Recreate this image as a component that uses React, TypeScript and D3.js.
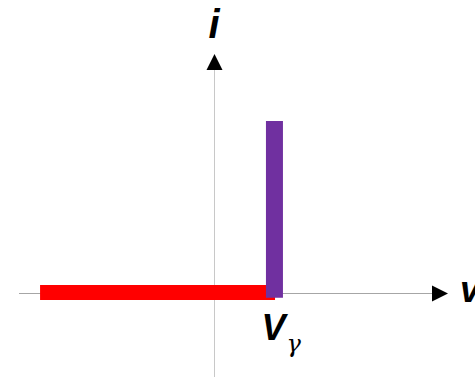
import React from "react";
import * as d3 from "d3";

const W = 475;
const H = 379;

// Characteristic pieces (v, i)
const reverseSegment = [
  { v: -0.892, i: 0 },
  { v: 0.313, i: 0 },
];
const forwardSegment = [
  { v: 0.31, i: 0 },
  { v: 0.31, i: 1 },
];
const vGamma = 0.31;
const axisLabels = { x: "v", y: "i", knee: "V", kneeSub: "γ" };

export default function App() {
  const x = d3.scaleLinear().domain([-1, 1.2]).range([19, 448]);
  const y = d3.scaleLinear().domain([0, 1]).range([293, 121]);
  const line = d3
    .line<{ v: number; i: number }>()
    .x((d) => x(d.v))
    .y((d) => y(d.i));

  const x0 = x(0);
  const y0 = y(0);
  const font = "'Liberation Sans', Arial, sans-serif";

  return (
    <svg
      width={W}
      height={H}
      style={{ position: "absolute", left: 0, top: 0, background: "#fff" }}
    >
      {/* horizontal axis */}
      <line x1={x(-1)} x2={432} y1={y0 + 0.5} y2={y0 + 0.5} stroke="#a6a6a6" strokeWidth={1} />
      <path d={`M432,${y0 - 7.5} L448,${y0 + 0.5} L432,${y0 + 8.5} Z`} fill="#000" />
      {/* vertical axis */}
      <line x1={x0 + 0.5} x2={x0 + 0.5} y1={377} y2={70} stroke="#c8c8c8" strokeWidth={1} />
      <path d={`M${x0 - 7.5},70 L${x0 + 0.5},54 L${x0 + 8.5},70 Z`} fill="#000" />

      {/* reverse region */}
      <path d={line(reverseSegment) || ""} stroke="#ff0000" strokeWidth={15} fill="none" transform="translate(0,-0.5)" />
      {/* forward region */}
      <path
        d={line([{ v: forwardSegment[0].v, i: -0.028 }, forwardSegment[1]]) || ""}
        stroke="#7030a0"
        strokeWidth={17}
        fill="none"
      />

      {/* labels */}
      <text x={x0} y={38} textAnchor="middle" fontFamily={font} fontWeight="bold" fontStyle="italic" fontSize={40}>
        {axisLabels.y}
      </text>
      <text x={460} y={302} fontFamily={font} fontWeight="bold" fontStyle="italic" fontSize={36}>
        {axisLabels.x}
      </text>
      <text x={x(vGamma) - 13} y={340} fontFamily={font} fontWeight="bold" fontStyle="italic" fontSize={36}>
        {axisLabels.knee}
      </text>
      <text x={x(vGamma) + 12} y={352} fontFamily="'DejaVu Serif', serif" fontStyle="italic" fontSize={24}>
        {axisLabels.kneeSub}
      </text>
    </svg>
  );
}
